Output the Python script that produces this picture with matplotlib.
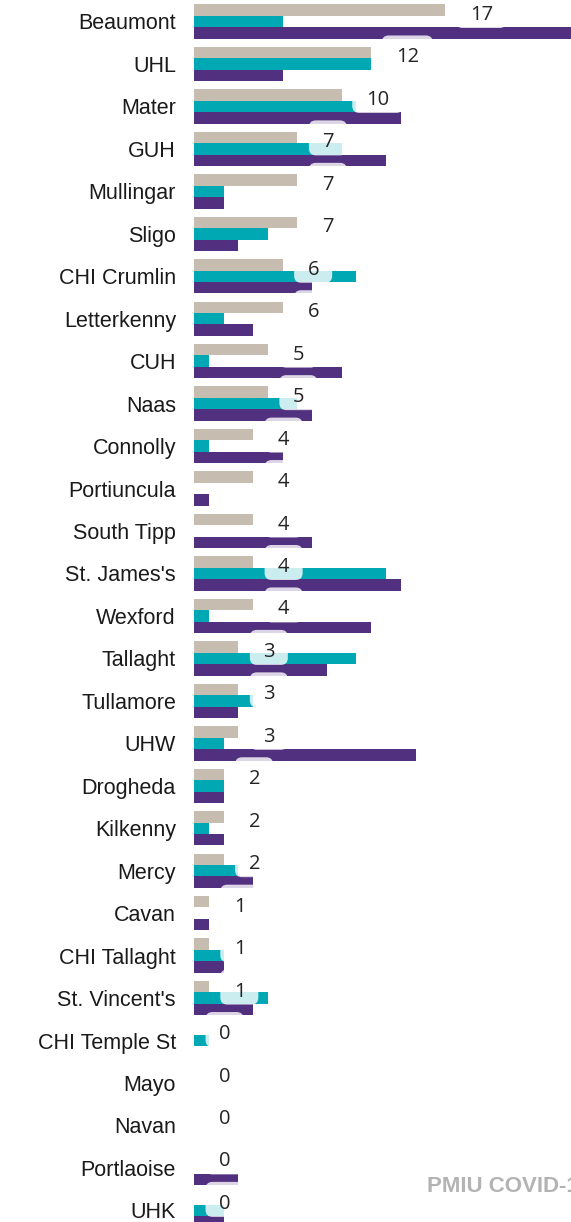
import matplotlib.pyplot as plt
from matplotlib.patches import FancyBboxPatch

# hospitals and the three series (beige value is labelled)
hospitals = ['Beaumont', 'UHL', 'Mater', 'GUH', 'Mullingar', 'Sligo', 'CHI Crumlin',
             'Letterkenny', 'CUH', 'Naas', 'Connolly', 'Portiuncula', 'South Tipp',
             "St. James's", 'Wexford', 'Tallaght', 'Tullamore', 'UHW', 'Drogheda',
             'Kilkenny', 'Mercy', 'Cavan', 'CHI Tallaght', "St. Vincent's",
             'CHI Temple St', 'Mayo', 'Navan', 'Portlaoise', 'UHK']
beige_vals = [17, 12, 10, 7, 7, 7, 6, 6, 5, 5, 4, 4, 4, 4, 4, 3, 3, 3, 2, 2, 2, 1, 1, 1, 0, 0, 0, 0, 0]
teal_vals = [6, 12, 11, 10, 2, 5, 11, 2, 1, 7, 1, 0, 0, 13, 1, 11, 4, 2, 2, 1, 3, 0, 2, 5, 1, 0, 0, 0, 2]
purple_vals = [27, 6, 14, 13, 2, 3, 8, 4, 10, 8, 6, 1, 8, 14, 12, 9, 3, 15, 2, 2, 4, 1, 2, 4, 0, 0, 0, 3, 2]

BEIGE = '#c6bcaf'
TEAL = '#00a8b4'
PURPLE = '#51307f'

W, H, DPI = 571, 1222, 100
fig = plt.figure(figsize=(W / DPI, H / DPI), dpi=DPI)
left_px = 194
ax = fig.add_axes([left_px / W, 0, 1 - left_px / W, 1])

n = len(hospitals)
xmax = 25.53
row_px = 42.46
top_off = 21.5
ax.set_xlim(0, xmax)
ax.set_ylim((H - top_off) / row_px, -top_off / row_px)

px_x = (W - left_px) / xmax      # pixels per x unit
px_y = row_px                    # pixels per y unit

ys = list(range(n))
bh = 0.27
ax.barh([y - bh for y in ys], beige_vals, height=bh, color=BEIGE, zorder=2)
ax.barh(ys, teal_vals, height=bh, color=TEAL, zorder=2)
ax.barh([y + bh for y in ys], purple_vals, height=bh, color=PURPLE, zorder=2)

# value labels with rounded translucent boxes
for y, v in zip(ys, beige_vals):
    s = str(v)
    tx = v + 25 / px_x
    tw = 11.1 * len(s) / px_x
    bw = (25 + 13 * len(s)) / px_x
    bhgt = 35 / px_y
    cx = tx + tw / 2
    cy = y - 11 / px_y
    box = FancyBboxPatch((cx - bw / 2, cy - bhgt / 2), bw, bhgt,
                         boxstyle='round,pad=0,rounding_size=%f' % (7 / px_x),
                         mutation_aspect=px_x / px_y,
                         fc='white', ec='none', alpha=0.8, zorder=3)
    ax.add_patch(box)
    ax.text(tx, y - 1.5 / px_y, s, ha='left', va='baseline', fontsize=14.5,
            family='Open Sans', color='#252423', zorder=4)

ax.set_yticks(ys)
ax.set_yticklabels(hospitals, fontsize=15.5, family='Liberation Sans', color='#1a1a1a')
ax.tick_params(axis='y', length=0, pad=13)
ax.set_xticks([])
for sp in ax.spines.values():
    sp.set_visible(False)

fig.text(427 / W, 1 - 1187 / H, 'PMIU COVID-19 Data', ha='left', va='center',
         fontsize=16, fontweight='bold', family='Liberation Sans', color='#b3b3b3')

fig.savefig('out.png', dpi=DPI)
